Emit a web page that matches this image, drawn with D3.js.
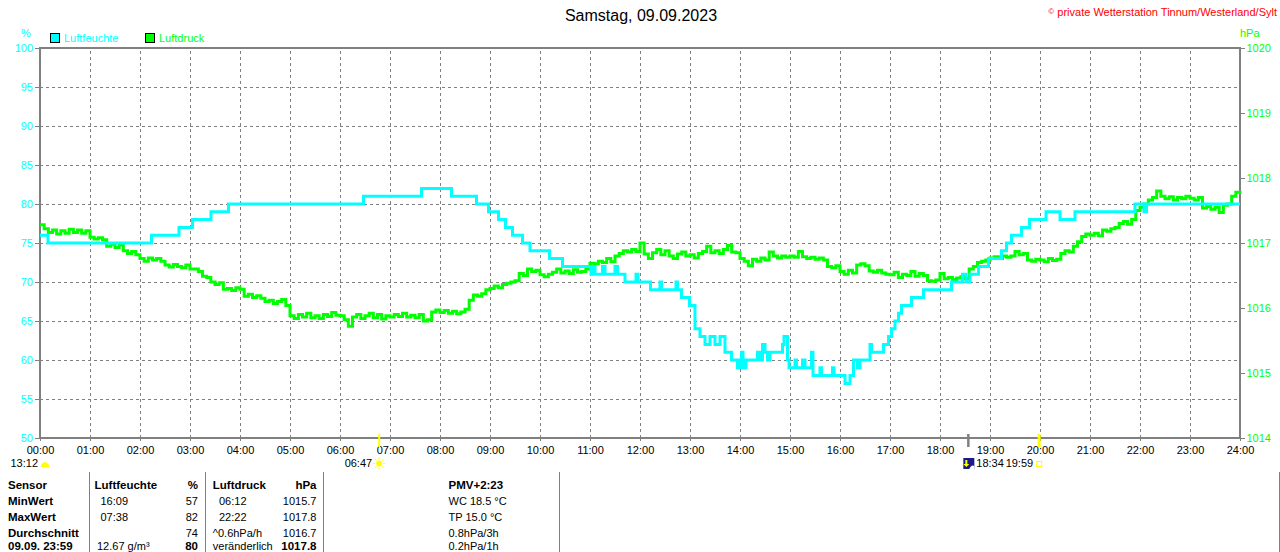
<!DOCTYPE html>
<html><head><meta charset="utf-8">
<script src="https://cdn.jsdelivr.net/npm/d3@7"></script>
<style>
body{margin:0;background:#fff}
svg{display:block}
text{font-family:"Liberation Sans",Arial,sans-serif}
</style>
</head><body>
<svg id="c" width="1280" height="552"></svg>
<script>
// ---------- data ----------
const hourLabels = ["00:00","01:00","02:00","03:00","04:00","05:00","06:00","07:00","08:00","09:00","10:00","11:00","12:00","13:00","14:00","15:00","16:00","17:00","18:00","19:00","20:00","21:00","22:00","23:00","24:00"];
const humTicks = [50,55,60,65,70,75,80,85,90,95,100];
const presTicks = [1014,1015,1016,1017,1018,1019,1020];

// humidity (%) as step changes: time in hours, value
const humTimes = [0,0.16,2.23,2.78,3.05,3.42,3.77,6.47,7.63,8.23,8.73,8.97,9.17,9.31,9.45,9.65,9.8,10.19,10.45,11.02,11.05,11.1,11.25,11.3,11.5,11.55,11.7,11.92,11.96,12.21,12.4,12.43,12.72,12.75,12.83,12.99,13.1,13.2,13.3,13.4,13.5,13.6,13.7,13.83,13.95,14.0,14.03,14.06,14.12,14.35,14.4,14.45,14.5,14.55,14.6,14.85,14.88,14.95,14.98,15.1,15.13,15.25,15.3,15.43,15.46,15.6,15.63,15.85,15.88,16.1,16.2,16.27,16.35,16.4,16.6,16.63,16.87,16.97,17.03,17.1,17.17,17.23,17.43,17.67,18.23,18.45,18.52,18.6,18.77,18.97,19.23,19.33,19.43,19.63,19.79,20.12,20.4,20.7,21.9,22.08,22.13,24];
const humValues = [76,75,76,77,78,79,80,81,82,81,80,79,78,77,76,75,74,73,72,71,72,71,72,71,72,71,70,71,70,69,70,69,70,69,68,67,64,63,62,63,62,63,61,60,59,60,61,59,60,61,60,62,61,60,61,62,63,60,59,60,59,60,59,61,58,59,58,59,58,57,58,60,59,60,62,61,62,63,64,65,66,67,68,69,70,71,70,71,72,73,74,75,76,77,78,79,78,79,80,79,80,80];

// air pressure (hPa), one reading every 5 minutes from 00:00 to 24:00
const presStepMinutes = 5;
const presValues = [
 1017.28,1017.22,1017.16,1017.20,1017.14,1017.19,1017.15,1017.21,1017.16,1017.20,1017.15,1017.19,
 1017.09,1017.06,1017.08,1017.05,1016.95,1016.98,1016.93,1016.97,1016.88,1016.84,1016.87,1016.82,
 1016.76,1016.72,1016.77,1016.74,1016.76,1016.72,1016.66,1016.63,1016.67,1016.64,1016.62,1016.66,
 1016.60,1016.60,1016.56,1016.49,1016.47,1016.40,1016.36,1016.39,1016.29,1016.30,1016.27,1016.31,
 1016.29,1016.18,1016.21,1016.16,1016.19,1016.15,1016.10,1016.12,1016.07,1016.10,1016.13,1016.04,
 1015.88,1015.84,1015.90,1015.86,1015.92,1015.85,1015.88,1015.84,1015.90,1015.87,1015.93,1015.89,
 1015.88,1015.82,1015.72,1015.86,1015.90,1015.84,1015.88,1015.92,1015.85,1015.90,1015.83,1015.88,
 1015.86,1015.90,1015.87,1015.92,1015.86,1015.89,1015.85,1015.90,1015.80,1015.82,1015.94,1015.97,
 1015.93,1015.96,1015.92,1015.95,1015.91,1015.94,1015.98,1016.12,1016.20,1016.18,1016.22,1016.28,
 1016.30,1016.34,1016.31,1016.36,1016.38,1016.40,1016.42,1016.53,1016.50,1016.60,1016.56,1016.58,
 1016.51,1016.48,1016.52,1016.55,1016.60,1016.54,1016.57,1016.53,1016.59,1016.55,1016.56,1016.60,
 1016.69,1016.68,1016.72,1016.70,1016.76,1016.71,1016.80,1016.84,1016.88,1016.86,1016.90,1016.87,
 1017.00,1016.83,1016.76,1016.85,1016.90,1016.82,1016.88,1016.80,1016.76,1016.83,1016.86,1016.80,
 1016.82,1016.77,1016.84,1016.87,1016.95,1016.85,1016.88,1016.84,1016.90,1016.96,1016.86,1016.85,
 1016.76,1016.72,1016.65,1016.75,1016.72,1016.77,1016.74,1016.86,1016.80,1016.77,1016.80,1016.78,
 1016.80,1016.78,1016.87,1016.79,1016.76,1016.78,1016.75,1016.77,1016.74,1016.64,1016.62,1016.65,
 1016.56,1016.52,1016.58,1016.54,1016.66,1016.68,1016.65,1016.57,1016.55,1016.58,1016.54,1016.52,
 1016.51,1016.55,1016.47,1016.52,1016.50,1016.56,1016.49,1016.53,1016.50,1016.42,1016.41,1016.43,
 1016.53,1016.45,1016.47,1016.44,1016.46,1016.48,1016.45,1016.60,1016.64,1016.70,1016.72,1016.74,
 1016.77,1016.79,1016.76,1016.80,1016.78,1016.80,1016.87,1016.82,1016.84,1016.74,1016.72,1016.75,
 1016.74,1016.71,1016.76,1016.73,1016.75,1016.84,1016.88,1016.86,1016.95,1017.02,1017.10,1017.14,
 1017.12,1017.15,1017.11,1017.20,1017.18,1017.22,1017.24,1017.30,1017.33,1017.29,1017.36,1017.50,
 1017.55,1017.60,1017.66,1017.70,1017.80,1017.72,1017.68,1017.71,1017.66,1017.70,1017.68,1017.72,
 1017.69,1017.66,1017.70,1017.54,1017.56,1017.52,1017.55,1017.47,1017.58,1017.60,1017.72,1017.78,
 1017.80];

// astronomical events (hours)
const sunriseTime = 6 + 47/60, moonsetTime = 18 + 34/60, sunsetTime = 19 + 59/60;
const eventLabels = ["13:12","06:47","18:34","19:59"];

// summary table
const tableCol1 = ["Sensor","MinWert","MaxWert","Durchschnitt","09.09. 23:59"];
const tableHumText = ["Luftfeuchte","16:09","07:38","","12.67 g/m³"];
const tableHumVal = ["%","57","82","74","80"];
const tablePresText = ["Luftdruck","06:12","22:22","^0.6hPa/h","veränderlich"];
const tablePresVal = ["hPa","1015.7","1017.8","1016.7","1017.8"];
const tableExtra = ["PMV+2:23","WC 18.5 °C","TP 15.0 °C","0.8hPa/3h","0.2hPa/1h"];

// ---------- drawing ----------
const svg = d3.select("#c");
const L = 40, R = 1240, T = 48, B = 438;
const GRAY = "#808080", CYAN = "#00ffff", GREEN = "#00ff00";
const FONT = "Liberation Sans, Arial, sans-serif";

const x = d3.scaleLinear().domain([0,24]).range([L,R]);
const yH = d3.scaleLinear().domain([50,100]).range([B,T]);
const yP = d3.scaleLinear().domain([1014,1020]).range([B,T]);

// grid
const gx = svg.append("g").attr("transform",`translate(0,${B})`)
  .call(d3.axisBottom(x).tickValues(d3.range(1,24)).tickSize(-(B-T)).tickFormat(""));
gx.select(".domain").remove();
gx.selectAll("line").attr("stroke",GRAY).attr("stroke-dasharray","3,3").attr("shape-rendering","crispEdges");
const gy = svg.append("g").attr("transform",`translate(${L},0)`)
  .call(d3.axisLeft(yH).tickValues(humTicks.slice(1,-1)).tickSize(-(R-L)).tickFormat(""));
gy.select(".domain").remove();
gy.selectAll("line").attr("stroke",GRAY).attr("stroke-dasharray","3,3").attr("shape-rendering","crispEdges");

// axes
const ax = svg.append("g").attr("transform",`translate(0,${B})`)
  .call(d3.axisBottom(x).tickValues(d3.range(0,25)).tickSize(3).tickPadding(5).tickFormat((d,i)=>hourLabels[i]));
ax.select(".domain").remove();
ax.selectAll("line").attr("stroke",GRAY);
ax.selectAll("text").attr("fill","#000").style("font-size","11px").style("font-family",FONT);

const al = svg.append("g").attr("transform",`translate(${L},0)`)
  .call(d3.axisLeft(yH).tickValues(humTicks).tickSize(5).tickPadding(2));
al.select(".domain").remove();
al.selectAll("line").attr("stroke",GRAY);
al.selectAll("text").attr("fill",CYAN).style("font-size","11px").style("font-family",FONT);

const ar = svg.append("g").attr("transform",`translate(${R},0)`)
  .call(d3.axisRight(yP).tickValues(presTicks).tickSize(5).tickPadding(1.5).tickFormat(d3.format("d")));
ar.select(".domain").remove();
ar.selectAll("line").attr("stroke",GRAY);
ar.selectAll("text").attr("fill",GREEN).style("font-size","11px").style("font-family",FONT);

// frame
svg.append("rect").attr("x",L).attr("y",T).attr("width",R-L).attr("height",B-T)
  .attr("fill","none").attr("stroke",GRAY).attr("stroke-width",2);

// series
const presData = presValues.map((v,i)=>({t:i*presStepMinutes/60, v}));
svg.append("path").datum(presData)
  .attr("fill","none").attr("stroke",GREEN).attr("stroke-width",3)
  .attr("d", d3.line().curve(d3.curveStepAfter).x(d=>x(d.t)).y(d=>yP(d.v)));

const humData = humTimes.map((t,i)=>({t, v:humValues[i]}));
svg.append("path").datum(humData)
  .attr("fill","none").attr("stroke",CYAN).attr("stroke-width",3)
  .attr("d", d3.line().curve(d3.curveStepAfter).x(d=>x(d.t)).y(d=>yH(d.v)));

// titles
svg.append("text").attr("x",641).attr("y",21).attr("text-anchor","middle")
  .style("font-size","16px").attr("fill","#000").text("Samstag, 09.09.2023");
const cp = svg.append("text").attr("x",1277).attr("y",16).attr("text-anchor","end")
  .style("font-size","11px").attr("fill","#ff0000");
cp.append("tspan").style("font-size","8px").attr("dy","-2").text("©");
cp.append("tspan").attr("dy","2").text(" private Wetterstation Tinnum/Westerland/Sylt");

svg.append("text").attr("x",26).attr("y",37).attr("text-anchor","middle").style("font-size","11px").attr("fill",CYAN).text("%");
svg.append("text").attr("x",1240).attr("y",37).style("font-size","11px").attr("fill",GREEN).text("hPa");

// legend
svg.append("rect").attr("x",50.5).attr("y",33.5).attr("width",9).attr("height",9).attr("fill",CYAN).attr("stroke","#000");
svg.append("text").attr("x",64).attr("y",42).style("font-size","11px").attr("fill",CYAN).text("Luftfeuchte");
svg.append("rect").attr("x",145.5).attr("y",33.5).attr("width",9).attr("height",9).attr("fill",GREEN).attr("stroke","#000");
svg.append("text").attr("x",159).attr("y",42).style("font-size","11px").attr("fill",GREEN).text("Luftdruck");

// event markers
svg.append("line").attr("x1",x(sunriseTime)).attr("x2",x(sunriseTime)).attr("y1",434).attr("y2",447).attr("stroke","#ffff00").attr("stroke-width",2);
svg.append("line").attr("x1",x(moonsetTime)).attr("x2",x(moonsetTime)).attr("y1",434).attr("y2",447).attr("stroke",GRAY).attr("stroke-width",2.5);
svg.append("line").attr("x1",x(sunsetTime)).attr("x2",x(sunsetTime)).attr("y1",434).attr("y2",447).attr("stroke","#ffff00").attr("stroke-width",3);

const evY = 467;
svg.append("text").attr("x",38).attr("y",evY).attr("text-anchor","end").style("font-size","11px").text(eventLabels[0]);
svg.append("path").attr("d","M41,467 L41,465 Q45,459 49,465 L49,467 Z").attr("fill","#ffff00");
svg.append("text").attr("x",x(sunriseTime)-7).attr("y",evY).attr("text-anchor","end").style("font-size","11px").text(eventLabels[1]);
const sx = x(sunriseTime), sy = 463.5;
svg.append("circle").attr("cx",sx).attr("cy",sy).attr("r",3).attr("fill","#ffff00");
svg.append("g").selectAll("line").data(d3.range(8)).join("line")
  .attr("x1",d=>sx+Math.cos(d*Math.PI/4)*4).attr("y1",d=>sy+Math.sin(d*Math.PI/4)*4)
  .attr("x2",d=>sx+Math.cos(d*Math.PI/4)*6).attr("y2",d=>sy+Math.sin(d*Math.PI/4)*6)
  .attr("stroke","#ffff00").attr("stroke-width",1);
const mx = x(moonsetTime);
svg.append("rect").attr("x",mx-5).attr("y",458).attr("width",11).attr("height",11).attr("fill","#1a1a8c");
svg.append("path").attr("d",`M${mx-3},460 L${mx-1},460 L${mx-1},464 L${mx+1},464 L${mx-2},467 L${mx-5},464 L${mx-3},464 Z`).attr("fill","#ffff00");
svg.append("path").attr("d",`M${mx+1},469 Q${mx+3},464 ${mx+6},466 L${mx+6},469 Z`).attr("fill","#ffffff");
svg.append("text").attr("x",mx+8).attr("y",evY).style("font-size","11px").text(eventLabels[2]);
svg.append("rect").attr("x",mx+8+28).attr("y",458).attr("width",3).attr("height",11).attr("fill","#fff");
svg.append("text").attr("x",x(sunsetTime)-6).attr("y",evY).attr("text-anchor","end").style("font-size","11px").text(eventLabels[3]);
svg.append("rect").attr("x",x(sunsetTime)-2.5).attr("y",461.5).attr("width",5).attr("height",5).attr("fill","none").attr("stroke","#ffff00");

// table
[89,205,323,559,1279].forEach(lx=>{
  svg.append("line").attr("x1",lx+0.5).attr("x2",lx+0.5).attr("y1",472).attr("y2",552).attr("stroke",GRAY);
});
const rowY = [489,505,521,537,550];
function col(arr, xx, anchor, boldFn, xOverride){
  arr.forEach((s,i)=>{
    if(!s) return;
    const b = boldFn(i);
    svg.append("text").attr("x", (xOverride && xOverride[i] != null) ? xOverride[i] : xx)
      .attr("y",rowY[i]).attr("text-anchor",anchor)
      .style("font-size", b ? "11.5px" : "11px").style("font-weight", b ? "bold" : "normal")
      .attr("fill","#000").text(s);
  });
}
col(tableCol1, 8, "start", ()=>true);
col(tableHumText, 94.5, "start", i=>i===0, [null,100.5,100.5,null,97]);
col(tableHumVal, 198, "end", i=>i===0||i===4);
col(tablePresText, 212.8, "start", i=>i===0, [null,219,219,null,null]);
col(tablePresVal, 316.5, "end", i=>i===0||i===4);
col(tableExtra, 448.5, "start", i=>i===0);
</script>
</body></html>
